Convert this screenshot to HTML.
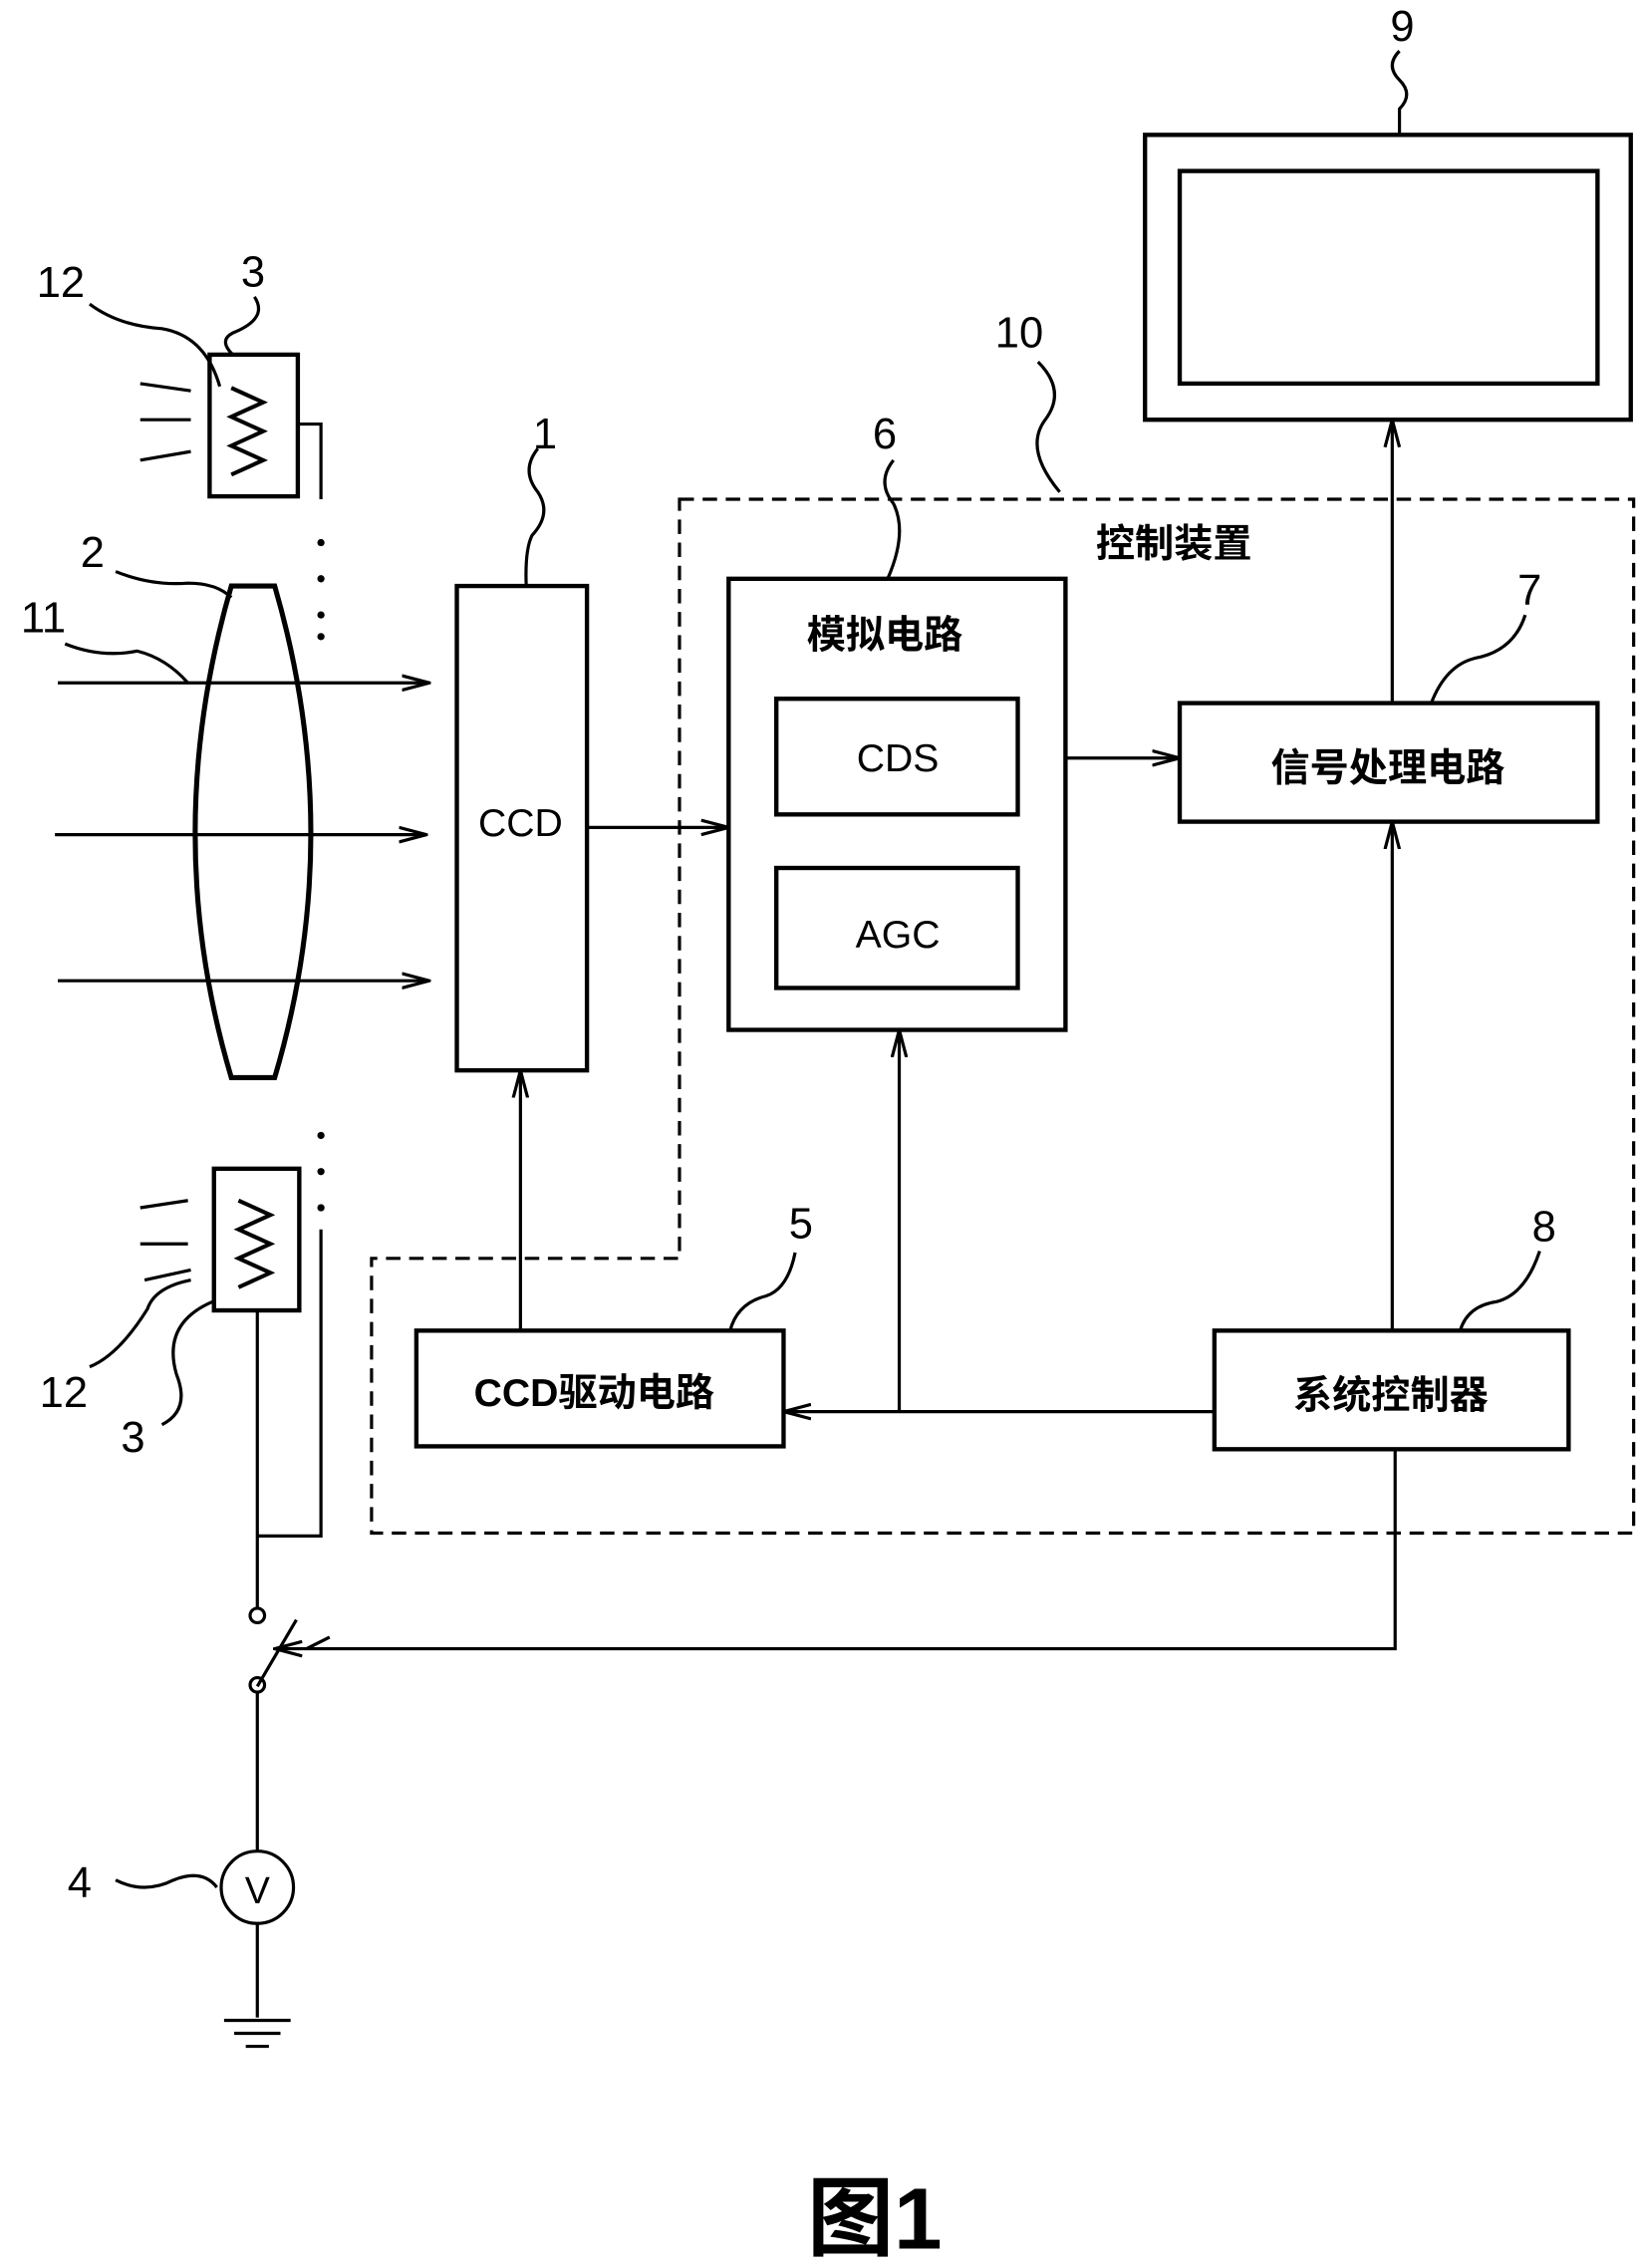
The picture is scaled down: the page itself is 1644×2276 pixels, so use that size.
<!DOCTYPE html>
<html><head><meta charset="utf-8"><style>html,body{margin:0;padding:0;background:#fff}svg{display:block}</style></head>
<body>
<svg width="1644" height="2276" viewBox="0 0 1133 1568" xmlns="http://www.w3.org/2000/svg" font-family="'Liberation Sans','Noto Sans CJK SC',sans-serif">
<defs><marker id="a" markerWidth="20" markerHeight="12" refX="19" refY="6" orient="auto" markerUnits="userSpaceOnUse"><path d="M0,1 L19,6 L0,11" fill="none" stroke="#000" stroke-width="2.2"/></marker></defs>
<g fill="none" stroke="#000" stroke-width="3">
<rect x="792" y="93" width="336" height="197"/>
<rect x="816" y="118" width="289" height="147"/>
<path d="M470,345 H1130 V1060 H257 V870 H470 Z" stroke-dasharray="10,6" stroke-width="2.2"/>
<rect x="316" y="405" width="90" height="335"/>
<rect x="504" y="400" width="233" height="312"/>
<rect x="537" y="483" width="167" height="80"/>
<rect x="537" y="600" width="167" height="83"/>
<rect x="816" y="486" width="289" height="82"/>
<rect x="288" y="920" width="254" height="80"/>
<rect x="840" y="920" width="245" height="82"/>
<rect x="145" y="245" width="61" height="98"/>
<rect x="148" y="808" width="59" height="98"/>
<path d="M160,405 H190 Q240,577 190,745 H160 Q110,577 160,405 Z" stroke-width="3.5"/>
</g>
<g fill="none" stroke="#000" stroke-width="2.2">
<path d="M406,572 H504" marker-end="url(#a)"/>
<path d="M737,524 H816" marker-end="url(#a)"/>
<path d="M963,486 V290" marker-end="url(#a)"/>
<path d="M963,920 V568" marker-end="url(#a)"/>
<path d="M840,976 H542" marker-end="url(#a)"/>
<path d="M622,976 V712" marker-end="url(#a)"/>
<path d="M360,920 V740" marker-end="url(#a)"/>
<path d="M40,472 H297" marker-end="url(#a)"/>
<path d="M38,577 H295" marker-end="url(#a)"/>
<path d="M40,678 H297" marker-end="url(#a)"/>
<path d="M965,1002 V1140 H190" marker-end="url(#a)"/>
<path d="M160,268 L182,278 L160,288 L182,298 L160,308 L182,318 L160,328" stroke-width="2.8"/>
<path d="M165,830 L187,840 L165,850 L187,860 L165,870 L187,880 L165,890" stroke-width="2.8"/>
<path d="M206,293 H222 V345 M222,850 V1062 H178"/>
<path d="M97,265 L132,270 M97,290 H132 M97,318 L132,312"/>
<path d="M97,835 L130,830 M97,860 H130 M100,885 L132,878"/>
<path d="M178,906 V1112 M178,1170 V1280 M178,1330 V1395 M155,1397 H201 M162,1406 H194 M170,1415 H186"/>
<path d="M178,1166 L205,1120 M212,1140 L228,1132"/>
<circle cx="178" cy="1117" r="5"/><circle cx="178" cy="1165" r="5"/>
<circle cx="178" cy="1305" r="25"/>
<path d="M968,35 q-10,10 0,20 q10,10 0,20 V93"/>
<path d="M372,310 q-12,15 0,30 q10,15 -4,30 q-5,10 -4,35"/>
<path d="M618,318 q-12,15 0,30 q10,20 -4,52"/>
<path d="M1055,425 q-8,25 -35,30 q-20,5 -30,31"/>
<path d="M550,866 q-5,25 -20,30 q-20,5 -25,24"/>
<path d="M1065,865 q-10,30 -30,35 q-20,3 -25,20"/>
<path d="M718,250 q20,20 5,40 q-15,20 10,50"/>
<path d="M62,210 q20,15 50,17 q30,5 40,40"/>
<path d="M176,205 q10,15 -15,25 q-10,5 0,15"/>
<path d="M80,395 q25,10 50,8 q20,0 30,10"/>
<path d="M45,445 q25,10 50,5 q20,5 35,22"/>
<path d="M62,945 q20,-8 40,-40 q5,-15 30,-20"/>
<path d="M112,985 q20,-10 10,-35 q-10,-35 25,-50"/>
<path d="M80,1300 q20,10 40,0 q20,-8 30,5"/>
</g>
<g fill="#000">
<circle cx="222" cy="375" r="2.5"/><circle cx="222" cy="400" r="2.5"/><circle cx="222" cy="425" r="2.5"/><circle cx="222" cy="440" r="2.5"/>
<circle cx="222" cy="785" r="2.5"/><circle cx="222" cy="810" r="2.5"/><circle cx="222" cy="835" r="2.5"/>
</g>
<g font-size="30" text-anchor="middle">
<text x="970" y="28">9</text><text x="705" y="240">10</text><text x="377" y="310">1</text>
<text x="612" y="310">6</text><text x="1058" y="418">7</text><text x="554" y="856">5</text>
<text x="1068" y="858">8</text><text x="42" y="205">12</text><text x="175" y="198">3</text>
<text x="64" y="392">2</text><text x="30" y="437">11</text><text x="44" y="973">12</text>
<text x="92" y="1004">3</text><text x="55" y="1312">4</text>
</g>
<g font-size="27" text-anchor="middle" font-weight="bold">
<text x="360" y="578" font-weight="normal">CCD</text><text x="621" y="533" font-weight="normal">CDS</text><text x="621" y="655" font-weight="normal">AGC</text>
<text x="812" y="385">控制装置</text><text x="612" y="448">模拟电路</text>
<text x="960" y="540">信号处理电路</text><text x="411" y="972">CCD驱动电路</text>
<text x="962" y="974">系统控制器</text>
<text x="605" y="1555" font-size="60">图1</text>
<text x="178" y="1316" font-size="26" font-weight="normal">V</text>
</g>
</svg>
</body></html>
